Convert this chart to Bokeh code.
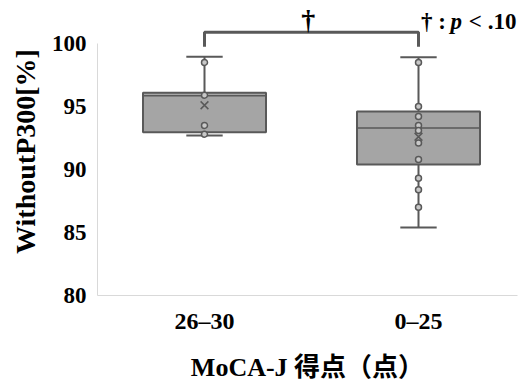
from bokeh.plotting import figure
from bokeh.models import FixedTicker, Label, Range1d
from bokeh.embed import file_html
from bokeh.resources import INLINE

# ---- data ----
categories = ["26–30", "0–25"]
upper_whisker = [98.95, 98.9]
q3 = [96.1, 94.6]
median = [95.85, 93.3]
q1 = [92.95, 90.4]
lower_whisker = [92.7, 85.4]
mean = [95.1, 92.6]
points_g1 = [98.5, 95.9, 93.5, 92.8]
points_g2 = [98.5, 95.0, 94.2, 93.5, 93.1, 92.1, 90.8, 89.3, 88.4, 87.0]
y_ticks = [80, 85, 90, 95, 100]
sig_mark = "†"
bracket_level = [100.9, 99.75]

# ---- style ----
BOX_FILL = "#a5a5a5"
DARK = "#595959"
AXIS_GRAY = "#d9d9d9"
SERIF = "Liberation Serif"
BOX_W = 0.575
CAP_W = 0.17
PX_PER_X = 214.0
PX_PER_Y = 12.6
FRAME_W = 420
FRAME_H = 288

xs = list(range(len(categories)))
x_start = -107 / PX_PER_X
y_start = y_ticks[0]

p = figure(frame_width=FRAME_W, frame_height=FRAME_H, output_backend="svg", toolbar_location=None,
           x_range=Range1d(x_start, x_start + FRAME_W / PX_PER_X),
           y_range=Range1d(y_start, y_start + FRAME_H / PX_PER_Y),
           min_border_left=97, min_border_right=5, min_border_top=7, min_border_bottom=70)
p.outline_line_color = None
p.xgrid.visible = False
p.ygrid.visible = False

# whiskers
p.segment(x0=xs, y0=q3, x1=xs, y1=upper_whisker, line_color=DARK, line_width=2)
p.segment(x0=xs, y0=q1, x1=xs, y1=lower_whisker, line_color=DARK, line_width=2)
# caps
p.segment(x0=[x - CAP_W / 2 for x in xs], y0=upper_whisker, x1=[x + CAP_W / 2 for x in xs],
          y1=upper_whisker, line_color=DARK, line_width=2)
p.segment(x0=[x - CAP_W / 2 for x in xs], y0=lower_whisker, x1=[x + CAP_W / 2 for x in xs],
          y1=lower_whisker, line_color=DARK, line_width=2)
# boxes
p.vbar(x=xs, width=BOX_W, bottom=q1, top=q3, fill_color=BOX_FILL, line_color=DARK, line_width=2)
# medians
p.segment(x0=[x - BOX_W / 2 for x in xs], y0=median, x1=[x + BOX_W / 2 for x in xs], y1=median,
          line_color=DARK, line_width=1.5)
# points
px = [xs[0]] * len(points_g1) + [xs[1]] * len(points_g2)
py = points_g1 + points_g2
p.scatter(x=px, y=py, marker="circle", size=6, fill_color="#c8c8c8", line_color=DARK, line_width=1.5)
# means
p.scatter(x=xs, y=mean, marker="x", size=11, line_color=DARK, line_width=1.5)

# significance bracket
p.line(x=[xs[0], xs[0], xs[1], xs[1]],
       y=[bracket_level[1], bracket_level[0], bracket_level[0], bracket_level[1]],
       line_color=DARK, line_width=3)
p.add_layout(Label(x=(xs[0] + xs[1]) / 2 - 0.015, y=bracket_level[0], text=sig_mark,
                   text_font=SERIF, text_font_style="bold", text_font_size="28px",
                   text_align="center", text_baseline="alphabetic", y_offset=13, text_color="black"))

# legend text "† : p < .10" (positions in data units, right of the second group)
leg_y = bracket_level[0] + 0.86
leg_parts = [("† :", "bold", 1.012), ("p", "bold italic", 1.15), ("< .10", "bold", 1.235)]
for txt, style, lx in leg_parts:
    p.add_layout(Label(x=lx, y=leg_y, text=txt, text_font=SERIF, text_font_style=style,
                       text_font_size="23px", text_baseline="alphabetic", text_color="black"))

# axes
p.yaxis.ticker = FixedTicker(ticks=y_ticks)
p.yaxis.bounds = (y_ticks[0], y_ticks[-1])
p.yaxis.axis_line_color = AXIS_GRAY
p.yaxis.major_tick_line_color = None
p.yaxis.minor_tick_line_color = None
p.yaxis.major_tick_out = 0
p.yaxis.major_label_text_font = SERIF
p.yaxis.major_label_text_font_style = "bold"
p.yaxis.major_label_text_font_size = "23px"
p.yaxis.major_label_text_color = "black"
p.yaxis.major_label_standoff = 11
p.yaxis.axis_label = "WithoutP300[%]"
p.yaxis.axis_label_text_font = SERIF
p.yaxis.axis_label_text_font_style = "bold"
p.yaxis.axis_label_text_font_size = "28px"
p.yaxis.axis_label_text_color = "black"
p.yaxis.axis_label_standoff = 8

p.xaxis.ticker = FixedTicker(ticks=xs)
p.xaxis.major_label_overrides = {x: c for x, c in zip(xs, categories)}
p.xaxis.axis_line_color = AXIS_GRAY
p.xaxis.major_tick_line_color = None
p.xaxis.minor_tick_line_color = None
p.xaxis.major_tick_out = 0
p.xaxis.major_label_text_font = SERIF
p.xaxis.major_label_text_font_style = "bold"
p.xaxis.major_label_text_font_size = "24px"
p.xaxis.major_label_text_color = "black"
p.xaxis.major_label_standoff = 12
p.xaxis.axis_label = "MoCA-J 得点（点）"
p.xaxis.axis_label_text_font = "'Liberation Serif', 'Noto Sans CJK JP'"
p.xaxis.axis_label_text_font_style = "bold"
p.xaxis.axis_label_text_font_size = "26px"
p.xaxis.axis_label_text_color = "black"
p.xaxis.axis_label_standoff = 16

open("out.html", "w").write(file_html(p, INLINE))
